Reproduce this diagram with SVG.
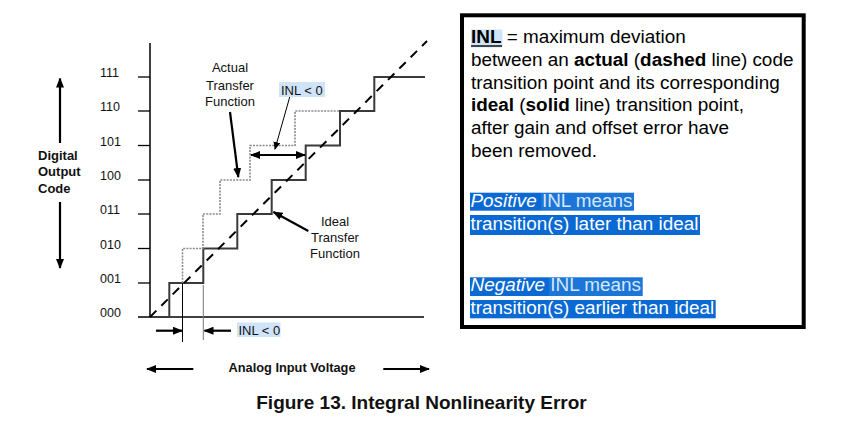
<svg xmlns="http://www.w3.org/2000/svg" width="865" height="427" viewBox="0 0 865 427">
<defs>
<marker id="ah" viewBox="0 0 10 8" refX="9" refY="4" markerWidth="10" markerHeight="8" markerUnits="userSpaceOnUse" orient="auto-start-reverse">
<path d="M0,0 L10,4 L0,8 z" fill="#000"/>
</marker>
<marker id="ahs" viewBox="0 0 8 7" refX="7" refY="3.5" markerWidth="8" markerHeight="7" markerUnits="userSpaceOnUse" orient="auto">
<path d="M0,0 L8,3.5 L0,7 z" fill="#000"/>
</marker>
</defs>
<style>
.ax{stroke:#000;stroke-width:1.5;fill:none}
.tick{stroke:#000;stroke-width:1.3}
.lbl{font-family:"Liberation Sans",Arial,sans-serif;font-size:12.5px;fill:#111}
.bl{font-family:"Liberation Sans",Arial,sans-serif;font-weight:bold;fill:#111}
.arr{stroke:#000;stroke-width:2.2;fill:none}
.bx{font-family:"Liberation Sans",Arial,sans-serif;font-size:18.9px;fill:#000}
.hl{font-family:"Liberation Sans",Arial,sans-serif;font-size:18.9px}
</style>
<rect width="865" height="427" fill="#fff"/>

<g id="axes">
<line class="ax" x1="150" y1="43" x2="150" y2="317"/>
<line class="ax" x1="138" y1="317" x2="424" y2="317"/>
<g class="tick">
<line x1="138" y1="77" x2="150" y2="77"/>
<line x1="138" y1="111" x2="150" y2="111"/>
<line x1="138" y1="145.5" x2="150" y2="145.5"/>
<line x1="138" y1="180" x2="150" y2="180"/>
<line x1="138" y1="214" x2="150" y2="214"/>
<line x1="138" y1="248.5" x2="150" y2="248.5"/>
<line x1="138" y1="283" x2="150" y2="283"/>
</g>
<g class="lbl">
<text x="100" y="77">111</text>
<text x="100" y="111">110</text>
<text x="100" y="145.5">101</text>
<text x="100" y="180">100</text>
<text x="100" y="214">011</text>
<text x="100" y="248.5">010</text>
<text x="100" y="283">001</text>
<text x="100" y="317">000</text>
</g>
</g>

<g id="ideal-staircase">
<path d="M150,317 H169.3 V283 H203.3 V248.5 H237.3 V214 H271.7 V180 H305.7 V145.5 H340 V111 H374.3 V77 H425" fill="none" stroke="#3a3a3a" stroke-width="2"/>
</g>

<g id="actual-staircase">
<path d="M182.5,283 V248.5 H203 V214 H220 V180 H250 V145.5 H295 V111 H340" fill="none" stroke="#8a8a8a" stroke-width="1.6" stroke-dasharray="2,1.2"/>
</g>

<g id="diagonal">
<line x1="150" y1="317" x2="427" y2="41" stroke="#000" stroke-width="2" stroke-dasharray="9,7"/>
</g>

<g id="connectors">
<line x1="182.5" y1="283" x2="182.5" y2="342" stroke="#000" stroke-width="1"/>
<line x1="203.3" y1="285" x2="203.3" y2="340" stroke="#777" stroke-width="1"/>
<line class="arr" x1="156" y1="330.7" x2="182" y2="330.7" marker-end="url(#ah)"/>
<line class="arr" x1="231" y1="330.7" x2="204.5" y2="330.7" marker-end="url(#ah)"/>
<line class="arr" x1="251" y1="155" x2="305" y2="155" marker-start="url(#ah)" marker-end="url(#ah)"/>
<line x1="290" y1="96" x2="275" y2="149" stroke="#000" stroke-width="1" marker-end="url(#ahs)"/>
<line class="arr" x1="230" y1="112" x2="238.3" y2="177" marker-end="url(#ah)"/>
<line class="arr" x1="308.3" y1="231" x2="273.5" y2="212" marker-end="url(#ah)"/>
<line class="arr" x1="60" y1="143" x2="60" y2="78.5" marker-end="url(#ah)"/>
<line class="arr" x1="60" y1="202" x2="60" y2="268" marker-end="url(#ah)"/>
<line class="arr" x1="193.3" y1="369" x2="147" y2="369" marker-end="url(#ah)"/>
<line class="arr" x1="383.3" y1="369" x2="429" y2="369" marker-end="url(#ah)"/>
</g>

<g id="label-actual" class="lbl" text-anchor="middle" style="font-size:13px">
<text x="230" y="72">Actual</text>
<text x="230" y="89.5">Transfer</text>
<text x="230" y="106">Function</text>
</g>

<g id="label-ideal" class="lbl" text-anchor="middle" style="font-size:13px">
<text x="335" y="226">Ideal</text>
<text x="335" y="242">Transfer</text>
<text x="335" y="257.5">Function</text>
</g>

<g id="label-inl-top">
<rect x="279" y="82" width="46" height="15" fill="#cfe4f8"/>
<text class="lbl" x="281" y="94.5" style="font-size:13px">INL &lt; 0</text>
</g>

<g id="label-inl-bottom">
<rect x="237" y="322.5" width="43.5" height="14.5" fill="#cfe4f8"/>
<text class="lbl" x="238.5" y="335" style="font-size:13px">INL &lt; 0</text>
</g>

<g id="label-y-axis" class="bl" style="font-size:13px">
<text x="38" y="159.5">Digital</text>
<text x="38" y="176">Output</text>
<text x="38" y="192.5">Code</text>
</g>

<g id="label-x-axis">
<text class="bl" x="292" y="372" text-anchor="middle" style="font-size:12.8px">Analog Input Voltage</text>
</g>

<g id="caption">
<text class="bl" x="421.5" y="408.5" text-anchor="middle" style="font-size:19px">Figure 13. Integral Nonlinearity Error</text>
</g>

<g id="info-box">
<rect x="462" y="15.3" width="341.7" height="311.7" fill="#fff" stroke="#000" stroke-width="4"/>
<rect x="471" y="29.5" width="31.5" height="18" fill="#cfe4f8"/>
<line x1="471" y1="46" x2="502" y2="46" stroke="#111" stroke-width="1.5"/>
<text class="bx" x="471" y="43.3"><tspan font-weight="bold">INL</tspan> = maximum deviation</text>
<text class="bx" x="471" y="66">between an <tspan font-weight="bold">actual</tspan> (<tspan font-weight="bold">dashed</tspan> line) code</text>
<text class="bx" x="471" y="88.5">transition point and its corresponding</text>
<text class="bx" x="471" y="111"><tspan font-weight="bold">ideal</tspan> (<tspan font-weight="bold">solid</tspan> line) transition point,</text>
<text class="bx" x="471" y="134">after gain and offset error have</text>
<text class="bx" x="471" y="156.7">been removed.</text>

<rect x="470" y="192.7" width="71" height="18" fill="#0a69d2"/>
<rect x="541" y="192.7" width="93" height="18" fill="#1c76d8"/>
<rect x="470" y="215" width="230" height="20" fill="#0a69d2"/>
<rect x="470" y="277.3" width="79" height="18.7" fill="#0a69d2"/>
<rect x="549" y="277.3" width="93.7" height="18.7" fill="#1c76d8"/>
<rect x="470" y="300" width="245.7" height="18.3" fill="#0a69d2"/>
<text class="hl" x="470.5" y="206.5"><tspan font-style="italic" fill="#fff">Positive</tspan><tspan fill="#d6e7f8"> INL means</tspan></text>
<text class="hl" x="470.5" y="230" fill="#fff">transition(s) later than ideal</text>
<text class="hl" x="470.5" y="290.5"><tspan font-style="italic" fill="#fff">Negative</tspan><tspan fill="#d6e7f8"> INL means</tspan></text>
<text class="hl" x="470.5" y="313.5" fill="#fff">transition(s) earlier than ideal</text>
</g>
</svg>
